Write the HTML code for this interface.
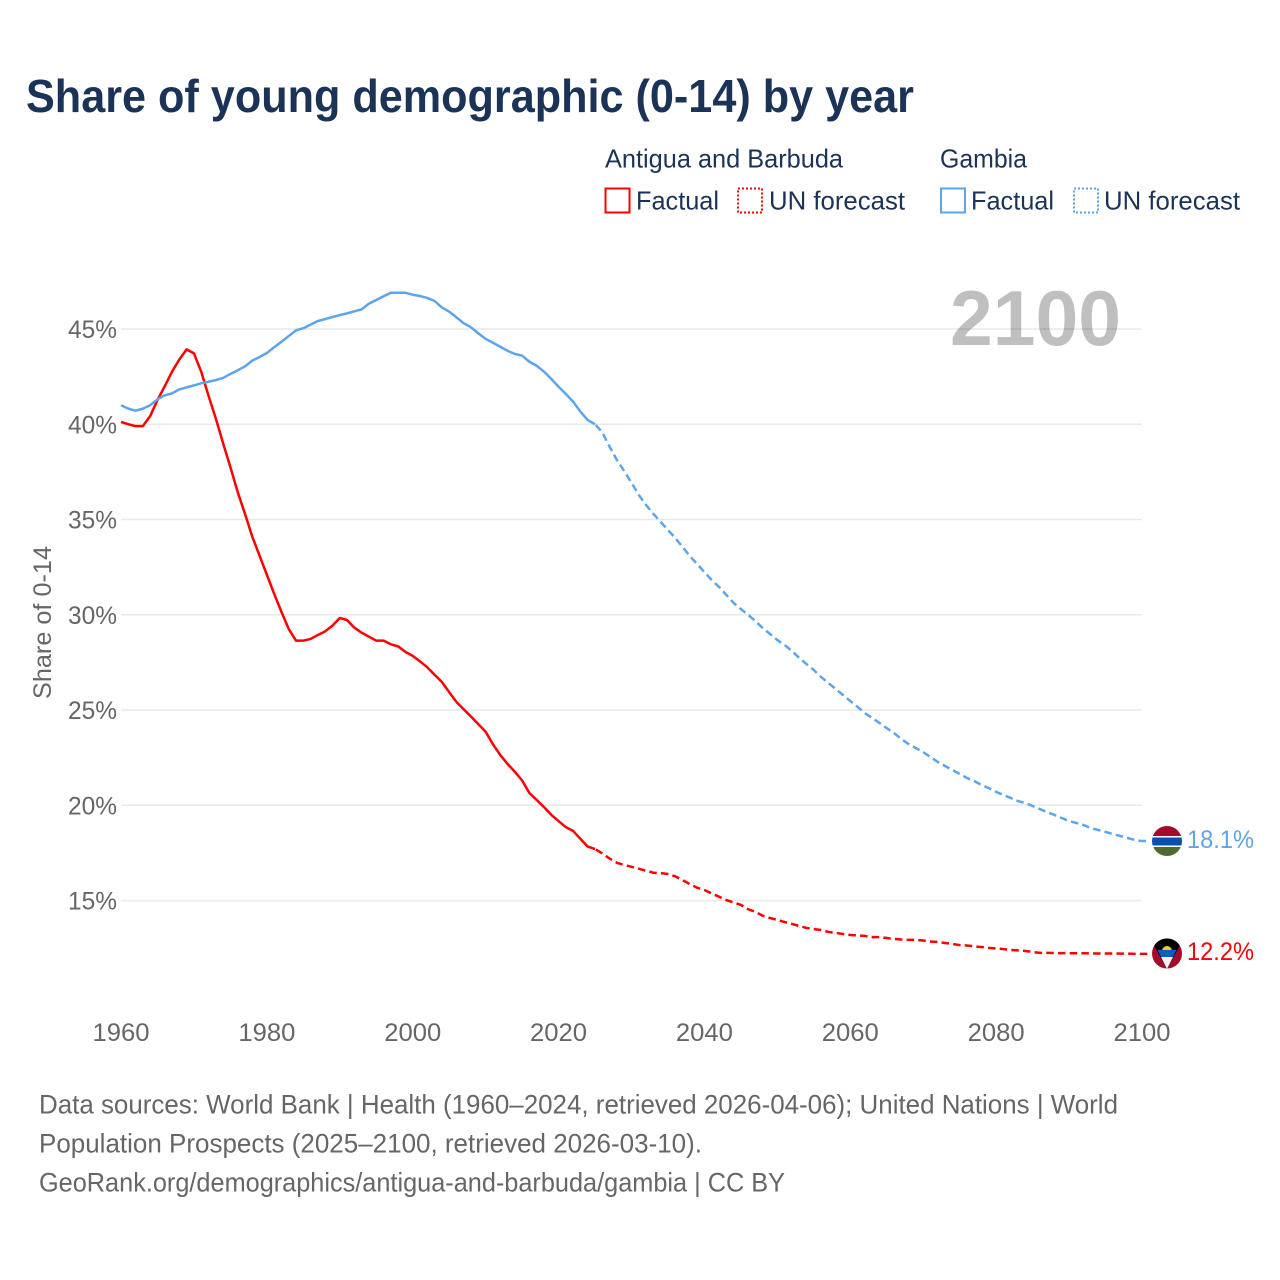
<!DOCTYPE html>
<html lang="en">
<head>
<meta charset="utf-8">
<title>Share of young demographic (0-14) by year</title>
<style>
html,body{margin:0;padding:0;background:#fff;width:1280px;height:1280px;overflow:hidden}
svg{display:block}
text{font-family:"Liberation Sans",sans-serif}
</style>
</head>
<body>
<svg id="chart" xmlns="http://www.w3.org/2000/svg" width="1280" height="1280" viewBox="0 0 1280 1280">
  <rect x="0" y="0" width="1280" height="1280" fill="#ffffff"/>
  <text x="26" y="112" font-size="46" font-weight="700" fill="#1a3357" textLength="888" lengthAdjust="spacingAndGlyphs">Share of young demographic (0-14) by year</text>

  <g font-size="26" fill="#1a3357">
    <text x="605" y="167.5" textLength="238" lengthAdjust="spacingAndGlyphs">Antigua and Barbuda</text>
    <rect x="605.5" y="188.5" width="24" height="24" fill="none" stroke="#ff0000" stroke-width="2"/>
    <text x="636" y="209.5" textLength="83" lengthAdjust="spacingAndGlyphs">Factual</text>
    <rect x="738" y="188.5" width="24" height="24" fill="none" stroke="#ff0000" stroke-width="2" stroke-dasharray="2 2"/>
    <text x="769" y="209.5" textLength="136" lengthAdjust="spacingAndGlyphs">UN forecast</text>
    <text x="940" y="167.5" textLength="87" lengthAdjust="spacingAndGlyphs">Gambia</text>
    <rect x="941" y="188.5" width="24" height="24" fill="none" stroke="#5ca5ed" stroke-width="2"/>
    <text x="971" y="209.5" textLength="83" lengthAdjust="spacingAndGlyphs">Factual</text>
    <rect x="1074" y="188.5" width="24" height="24" fill="none" stroke="#5ca5ed" stroke-width="2" stroke-dasharray="2 2"/>
    <text x="1104" y="209.5" textLength="136" lengthAdjust="spacingAndGlyphs">UN forecast</text>
  </g>

  <g id="grid"></g>
  <g id="yticks"></g>
  <g id="xticks"></g>

  <text transform="translate(51,699) rotate(-90)" font-size="25" fill="#666666" textLength="153" lengthAdjust="spacingAndGlyphs">Share of 0-14</text>
  <text x="950" y="345" font-size="78" font-weight="700" fill="#000000" fill-opacity="0.25" textLength="171" lengthAdjust="spacingAndGlyphs">2100</text>

  <g id="series"></g>

  <defs>
    <clipPath id="clip-gambia"><circle cx="1167" cy="841" r="15"/></clipPath>
    <clipPath id="clip-antigua"><circle cx="1167" cy="953.5" r="15"/></clipPath>
  </defs>
  <g clip-path="url(#clip-gambia)">
    <rect x="1150" y="824" width="34" height="12" fill="#a50a2c"/>
    <rect x="1150" y="836" width="34" height="11" fill="#ffffff"/>
    <rect x="1150" y="837.5" width="34" height="8" fill="#0a4eb0"/>
    <rect x="1150" y="847" width="34" height="12" fill="#4d6b2e"/>
  </g>
  <g clip-path="url(#clip-antigua)">
    <rect x="1150" y="936" width="34" height="36" fill="#a50a2c"/>
    <polygon points="1150,938 1184,938 1167,969" fill="#000000"/>
    <circle cx="1167" cy="951" r="5" fill="#f5c72c"/>
    <polygon points="1157.5,950 1176.5,950 1173,957 1161,957" fill="#0a5cc0"/>
    <polygon points="1161,957 1173,957 1167,969" fill="#f2f2f2"/>
  </g>

  <text x="1187" y="848" font-size="25" fill="#5ca5ed" textLength="67" lengthAdjust="spacingAndGlyphs">18.1%</text>
  <text x="1187" y="960" font-size="25" fill="#ff0000" textLength="67" lengthAdjust="spacingAndGlyphs">12.2%</text>

  <g font-size="26.5" fill="#666666">
    <text x="39" y="1113.5" textLength="1079" lengthAdjust="spacingAndGlyphs">Data sources: World Bank | Health (1960–2024, retrieved 2026-04-06); United Nations | World</text>
    <text x="39" y="1152.5" textLength="663" lengthAdjust="spacingAndGlyphs">Population Prospects (2025–2100, retrieved 2026-03-10).</text>
    <text x="39" y="1191.5" textLength="746" lengthAdjust="spacingAndGlyphs">GeoRank.org/demographics/antigua-and-barbuda/gambia | CC BY</text>
  </g>
</svg>

<script>
const xTickLabels = [1960, 1980, 2000, 2020, 2040, 2060, 2080, 2100];
const yTickLabels = [15, 20, 25, 30, 35, 40, 45];
const factualStartYear = 1960;
const forecastStartYear = 2025;

const antiguaFactual = [40.12,40.0,39.9,39.9,40.43,41.27,42.0,42.76,43.4,43.93,43.72,42.76,41.5,40.3,39.0,37.75,36.44,35.3,34.1,33.1,32.1,31.1,30.15,29.25,28.64,28.64,28.73,28.94,29.13,29.43,29.83,29.72,29.32,29.06,28.85,28.64,28.64,28.45,28.34,28.05,27.84,27.55,27.24,26.85,26.47,25.94,25.42,25.03,24.65,24.25,23.86,23.2,22.64,22.17,21.76,21.3,20.64,20.28,19.9,19.5,19.17,18.85,18.65,18.23,17.83,17.7];
const antiguaForecast = [17.7,17.47,17.2,16.98,16.86,16.77,16.67,16.56,16.46,16.44,16.39,16.27,16.07,15.86,15.67,15.55,15.37,15.2,15.02,14.9,14.77,14.54,14.4,14.2,14.08,13.98,13.87,13.77,13.66,13.56,13.5,13.45,13.35,13.3,13.24,13.19,13.16,13.14,13.08,13.08,13.03,12.98,12.95,12.93,12.93,12.9,12.85,12.82,12.77,12.72,12.66,12.64,12.59,12.56,12.51,12.48,12.45,12.4,12.38,12.35,12.3,12.25,12.25,12.24,12.24,12.23,12.23,12.23,12.22,12.22,12.22,12.22,12.21,12.21,12.2,12.2];
const gambiaFactual = [41.0,40.82,40.71,40.82,41.0,41.31,41.52,41.62,41.83,41.94,42.04,42.15,42.23,42.32,42.43,42.64,42.83,43.04,43.34,43.53,43.74,44.04,44.33,44.63,44.93,45.04,45.23,45.42,45.52,45.63,45.73,45.82,45.93,46.03,46.33,46.52,46.72,46.9,46.9,46.9,46.8,46.73,46.63,46.47,46.13,45.91,45.61,45.3,45.09,44.77,44.48,44.28,44.07,43.86,43.69,43.6,43.28,43.07,42.76,42.38,41.97,41.59,41.18,40.66,40.22,40.0];
const gambiaForecast = [40.0,39.57,38.82,38.12,37.54,36.93,36.29,35.76,35.3,34.87,34.45,34.03,33.56,33.08,32.66,32.24,31.82,31.46,31.04,30.62,30.3,29.99,29.67,29.3,28.99,28.67,28.41,28.1,27.73,27.41,27.1,26.73,26.42,26.1,25.79,25.47,25.16,24.84,24.58,24.32,24.05,23.79,23.48,23.21,23.0,22.79,22.53,22.27,22.06,21.85,21.64,21.43,21.27,21.06,20.9,20.7,20.54,20.38,20.22,20.12,19.96,19.8,19.64,19.49,19.33,19.17,19.07,18.96,18.8,18.7,18.6,18.49,18.39,18.28,18.18,18.12];

const SVGNS = 'http://www.w3.org/2000/svg';
function xScale(year){ return 121 + (year - 1960) * (1142 - 121) / 140; }
function yScale(v){ return 329 + (45 - v) * 19.05; }

const gridG = document.getElementById('grid');
const yG = document.getElementById('yticks');
const xG = document.getElementById('xticks');
const seriesG = document.getElementById('series');

yTickLabels.forEach(function(v){
  const line = document.createElementNS(SVGNS, 'line');
  
  
  line.setAttribute('x1', xScale(1960));
  line.setAttribute('x2', xScale(2100));
  line.setAttribute('y1', yScale(v));
  line.setAttribute('y2', yScale(v));
  line.setAttribute('stroke', '#e9e9e9');
  line.setAttribute('stroke-width', '1.5');
  gridG.appendChild(line);

  const t = document.createElementNS(SVGNS, 'text');
  
  
  t.setAttribute('x', 117);
  t.setAttribute('y', yScale(v) + 9);
  t.setAttribute('text-anchor', 'end');
  t.setAttribute('font-size', '25');
  t.setAttribute('fill', '#666666');
  t.setAttribute('textLength', '49');
  t.setAttribute('lengthAdjust', 'spacingAndGlyphs');
  t.textContent = v + '%';
  yG.appendChild(t);
});

xTickLabels.forEach(function(year){
  const t = document.createElementNS(SVGNS, 'text');
  
  
  t.setAttribute('x', xScale(year));
  t.setAttribute('y', 1041);
  t.setAttribute('text-anchor', 'middle');
  t.setAttribute('font-size', '25');
  t.setAttribute('fill', '#666666');
  t.setAttribute('textLength', '57');
  t.setAttribute('lengthAdjust', 'spacingAndGlyphs');
  t.textContent = year;
  xG.appendChild(t);
});

function buildPath(values, startYear, extendEnd){
  let d = '';
  values.forEach(function(v, i){
    d += (i === 0 ? 'M' : 'L') + xScale(startYear + i).toFixed(2) + ' ' + yScale(v).toFixed(2);
  });
  if (extendEnd) {
    d += 'L' + (xScale(startYear + values.length - 1) + 8).toFixed(2) + ' ' + yScale(values[values.length - 1]).toFixed(2);
  }
  return d;
}

function drawLine(values, startYear, color, dashed, name){
  const p = document.createElementNS(SVGNS, 'path');
  
  
  p.setAttribute('d', buildPath(values, startYear, dashed));
  p.setAttribute('fill', 'none');
  p.setAttribute('stroke', color);
  p.setAttribute('stroke-width', '2.5');
  p.setAttribute('stroke-linejoin', 'round');
  if (dashed) {
    p.setAttribute('stroke-dasharray', '7.5 4.2');
    p.setAttribute('stroke-dashoffset', '10.7');
  }
  seriesG.appendChild(p);
}

drawLine(antiguaFactual, factualStartYear, '#ff0000', false, 'antigua-factual-line');
drawLine(antiguaForecast, forecastStartYear, '#ff0000', true, 'antigua-forecast-line');
drawLine(gambiaFactual, factualStartYear, '#5ca5ed', false, 'gambia-factual-line');
drawLine(gambiaForecast, forecastStartYear, '#5ca5ed', true, 'gambia-forecast-line');
</script>
</body>
</html>
